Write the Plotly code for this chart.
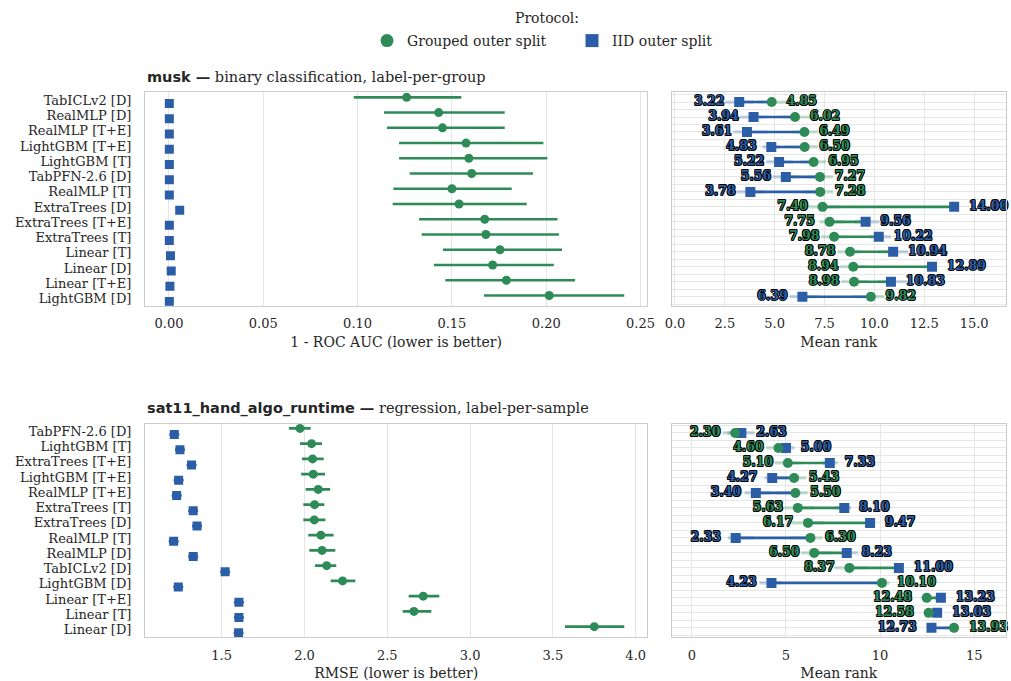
import plotly.graph_objects as go

W, H = 1011, 681
GREEN = "#2e8b57"
BLUE = "#2b5ea7"
GREEN_L = "rgba(46,139,87,0.28)"
BLUE_L = "rgba(43,94,167,0.28)"
GRID = "#e6e6e6"
FRAME = "#cccccc"
SERIF = "DejaVu Serif"
TXT = "#262626"

# ---------------- musk ----------------
musk_models = ["TabICLv2 [D]", "RealMLP [D]", "RealMLP [T+E]", "LightGBM [T+E]", "LightGBM [T]",
               "TabPFN-2.6 [D]", "RealMLP [T]", "ExtraTrees [D]", "ExtraTrees [T+E]", "ExtraTrees [T]",
               "Linear [T]", "Linear [D]", "Linear [T+E]", "LightGBM [D]"]
musk_grp_mean = [0.126, 0.143, 0.145, 0.1575, 0.159, 0.1605, 0.150, 0.1538, 0.1674, 0.168, 0.1755, 0.1716, 0.1789, 0.2016]
musk_grp_lo = [0.098, 0.114, 0.1156, 0.122, 0.122, 0.1276, 0.119, 0.1186, 0.1326, 0.134, 0.1453, 0.1405, 0.1465, 0.167]
musk_grp_hi = [0.155, 0.178, 0.178, 0.1985, 0.2006, 0.193, 0.1817, 0.1897, 0.206, 0.2068, 0.2084, 0.204, 0.2153, 0.2414]
musk_iid_mean = [0.0002, 0.0002, 0.0002, 0.0002, 0.0002, 0.0002, 0.0002, 0.0057, 0.0002, 0.0002, 0.0008, 0.0012, 0.0005, 0.0002]

musk_rank_grp = [4.85, 6.02, 6.49, 6.50, 6.95, 7.27, 7.28, 7.40, 7.75, 7.98, 8.78, 8.94, 8.98, 9.82]
musk_rank_grp_lo = [4.10, 5.20, 5.85, 5.50, 6.30, 6.60, 6.50, 6.67, 7.25, 7.33, 8.17, 8.25, 8.33, 8.90]
musk_rank_grp_hi = [5.60, 6.83, 7.17, 7.17, 7.58, 7.92, 7.92, 8.30, 8.50, 8.70, 9.40, 9.60, 9.70, 10.50]
musk_rank_iid = [3.22, 3.94, 3.61, 4.83, 5.22, 5.56, 3.78, 14.00, 9.56, 10.22, 10.94, 12.89, 10.83, 6.39]
musk_rank_iid_lo = [2.50, 3.25, 2.92, 4.38, 4.58, 4.92, 3.08, 14.00, 9.00, 9.75, 10.20, 12.50, 10.20, 5.75]
musk_rank_iid_hi = [3.95, 4.60, 4.67, 5.30, 5.90, 6.20, 4.50, 14.00, 10.25, 10.83, 11.70, 12.89, 11.70, 7.20]

# ---------------- sat11 ----------------
sat_models = ["TabPFN-2.6 [D]", "LightGBM [T]", "ExtraTrees [T+E]", "LightGBM [T+E]", "RealMLP [T+E]",
              "ExtraTrees [T]", "ExtraTrees [D]", "RealMLP [T]", "RealMLP [D]", "TabICLv2 [D]",
              "LightGBM [D]", "Linear [T+E]", "Linear [T]", "Linear [D]"]
sat_grp_mean = [1.973, 2.043, 2.049, 2.053, 2.083, 2.061, 2.059, 2.099, 2.106, 2.134, 2.230, 2.717, 2.661, 3.750]
sat_grp_lo = [1.906, 1.973, 1.985, 1.980, 2.007, 1.993, 1.993, 2.023, 2.029, 2.063, 2.158, 2.629, 2.593, 3.573]
sat_grp_hi = [2.037, 2.106, 2.116, 2.124, 2.155, 2.120, 2.126, 2.176, 2.186, 2.192, 2.307, 2.814, 2.766, 3.931]
sat_iid_mean = [1.214, 1.248, 1.318, 1.240, 1.228, 1.328, 1.351, 1.210, 1.328, 1.521, 1.238, 1.604, 1.604, 1.602]
sat_iid_lo = [1.184, 1.218, 1.288, 1.210, 1.198, 1.298, 1.321, 1.180, 1.298, 1.491, 1.208, 1.574, 1.574, 1.572]
sat_iid_hi = [1.244, 1.278, 1.348, 1.270, 1.258, 1.358, 1.381, 1.240, 1.358, 1.551, 1.268, 1.634, 1.634, 1.632]

sat_rank_grp = [2.30, 4.60, 5.10, 5.43, 5.50, 5.63, 6.17, 6.30, 6.50, 8.37, 10.10, 12.48, 12.58, 13.93]
sat_rank_grp_lo = [1.65, 3.95, 4.40, 4.80, 4.50, 4.92, 5.28, 5.20, 5.80, 7.57, 9.70, 12.20, 12.40, 13.60]
sat_rank_grp_hi = [2.90, 5.20, 5.80, 6.07, 6.16, 6.50, 7.00, 6.95, 7.50, 9.30, 10.50, 12.80, 12.80, 14.20]
sat_rank_iid = [2.63, 5.00, 7.33, 4.27, 3.40, 8.10, 9.47, 2.33, 8.23, 11.00, 4.23, 13.23, 13.03, 12.73]
sat_rank_iid_lo = [1.90, 4.50, 6.90, 3.86, 2.80, 7.60, 9.47, 1.91, 7.90, 11.00, 3.60, 12.90, 12.80, 12.50]
sat_rank_iid_hi = [3.33, 5.45, 7.75, 4.80, 4.20, 8.46, 9.47, 3.30, 8.82, 11.00, 4.80, 13.50, 13.20, 13.00]

DODGE = 0.2
fig = go.Figure()


def metric_panel(xa, ya, gm, glo, ghi, im, ilo=None, ihi=None):
    n = len(gm)
    rows = list(range(n))
    err_i = None
    if ilo is not None:
        err_i = dict(type="data", symmetric=False,
                     array=[h - m for h, m in zip(ihi, im)],
                     arrayminus=[m - l for m, l in zip(im, ilo)],
                     thickness=2.6, width=0, color=BLUE)
    fig.add_trace(go.Scatter(
        x=im, y=[r + DODGE for r in rows], mode="markers", xaxis=xa, yaxis=ya,
        marker=dict(symbol="square", size=9, color=BLUE), error_x=err_i,
        showlegend=False, hoverinfo="skip"))
    fig.add_trace(go.Scatter(
        x=gm, y=[r - DODGE for r in rows], mode="markers", xaxis=xa, yaxis=ya,
        marker=dict(symbol="circle", size=9, color=GREEN),
        error_x=dict(type="data", symmetric=False,
                     array=[h - m for h, m in zip(ghi, gm)],
                     arrayminus=[m - l for m, l in zip(gm, glo)],
                     thickness=2.6, width=0, color=GREEN),
        showlegend=False, hoverinfo="skip"))


def seg(lo, hi):
    xs, ys = [], []
    for i, (a, b) in enumerate(zip(lo, hi)):
        xs += [a, b, None]
        ys += [i, i, None]
    return xs, ys


SHADOW = ("0.8px 0 0 #000, -0.8px 0 0 #000, 0 0.8px 0 #000, 0 -0.8px 0 #000, "
          "0.6px 0.6px 0 #000, -0.6px -0.6px 0 #000, 0.6px -0.6px 0 #000, -0.6px 0.6px 0 #000")


def rank_panel(xa, ya, g, glo, ghi, b, blo, bhi):
    # light CIs
    for lo, hi, col in ((glo, ghi, GREEN_L), (blo, bhi, BLUE_L)):
        xs, ys = seg(lo, hi)
        fig.add_trace(go.Scatter(x=xs, y=ys, mode="lines", xaxis=xa, yaxis=ya,
                                 line=dict(color=col, width=3.2), showlegend=False, hoverinfo="skip"))
    # connecting lines coloured by the better (lower) rank
    gx, gy, bx, by = [], [], [], []
    for i, (gv, bv) in enumerate(zip(g, b)):
        if gv <= bv:
            gx += [gv, bv, None]; gy += [i, i, None]
        else:
            bx += [bv, gv, None]; by += [i, i, None]
    fig.add_trace(go.Scatter(x=gx, y=gy, mode="lines", xaxis=xa, yaxis=ya,
                             line=dict(color=GREEN, width=2.6), showlegend=False, hoverinfo="skip"))
    fig.add_trace(go.Scatter(x=bx, y=by, mode="lines", xaxis=xa, yaxis=ya,
                             line=dict(color=BLUE, width=2.6), showlegend=False, hoverinfo="skip"))
    rows = list(range(len(g)))
    fig.add_trace(go.Scatter(x=b, y=rows, mode="markers", xaxis=xa, yaxis=ya,
                             marker=dict(symbol="square", size=10, color=BLUE),
                             showlegend=False, hoverinfo="skip"))
    fig.add_trace(go.Scatter(x=g, y=rows, mode="markers", xaxis=xa, yaxis=ya,
                             marker=dict(symbol="circle", size=10, color=GREEN),
                             showlegend=False, hoverinfo="skip"))
    # value labels
    lx, lt, lc, rx, rt, rc = [], [], [], [], [], []
    for gv, bv in zip(g, b):
        if gv <= bv:
            lx.append(gv); lt.append(f"{gv:.2f}"); lc.append(GREEN)
            rx.append(bv); rt.append(f"{bv:.2f}"); rc.append(BLUE)
        else:
            lx.append(bv); lt.append(f"{bv:.2f}"); lc.append(BLUE)
            rx.append(gv); rt.append(f"{gv:.2f}"); rc.append(GREEN)
    for xs, ts, cs, pos in ((lx, lt, lc, "middle left"), (rx, rt, rc, "middle right")):
        fig.add_trace(go.Scatter(
            x=xs, y=rows, mode="markers+text", text=ts, textposition=pos, xaxis=xa, yaxis=ya,
            marker=dict(size=22, color="rgba(0,0,0,0)"),
            textfont=dict(family=SERIF, size=12.5, weight="bold", color=cs, shadow=SHADOW),
            showlegend=False, hoverinfo="skip", cliponaxis=False))


metric_panel("x", "y", musk_grp_mean, musk_grp_lo, musk_grp_hi, musk_iid_mean)
rank_panel("x2", "y2", musk_rank_grp, musk_rank_grp_lo, musk_rank_grp_hi,
           musk_rank_iid, musk_rank_iid_lo, musk_rank_iid_hi)
metric_panel("x3", "y3", sat_grp_mean, sat_grp_lo, sat_grp_hi, sat_iid_mean, sat_iid_lo, sat_iid_hi)
rank_panel("x4", "y4", sat_rank_grp, sat_rank_grp_lo, sat_rank_grp_hi,
           sat_rank_iid, sat_rank_iid_lo, sat_rank_iid_hi)

# legend entries
fig.add_trace(go.Scatter(x=[None], y=[None], mode="markers", name="Grouped outer split",
                         marker=dict(symbol="circle", size=13, color=GREEN)))
fig.add_trace(go.Scatter(x=[None], y=[None], mode="markers", name="IID outer split",
                         marker=dict(symbol="square", size=13, color=BLUE)))

XL = [145 / W, 647.3 / W]
XR = [671.7 / W, 1006 / W]
YT = [1 - 305.7 / H, 1 - 92.3 / H]
YB = [1 - 637.3 / H, 1 - 423.5 / H]

tickfont = dict(family=SERIF, size=13, color=TXT)
titlefont = dict(family=SERIF, size=14, color=TXT)
base_x = dict(showgrid=True, gridcolor=GRID, gridwidth=1, zeroline=False, showline=True, mirror=True,
              linecolor=FRAME, linewidth=1, ticks="outside", ticklen=6, tickcolor="rgba(0,0,0,0)",
              tickfont=tickfont, automargin=False)
base_y = dict(zeroline=False, showline=True, mirror=True, linecolor=FRAME, linewidth=1,
              tickfont=tickfont, automargin=False)
rows14 = list(range(14))
half = [i - 0.5 for i in range(15)]

fig.update_layout(
    width=W, height=H, margin=dict(l=0, r=0, t=0, b=0, autoexpand=False),
    paper_bgcolor="white", plot_bgcolor="white",
    font=dict(family=SERIF, color=TXT),
    xaxis=dict(base_x, domain=XL, anchor="y", range=[-0.0127, 0.2536],
               tickvals=[0, 0.05, 0.1, 0.15, 0.2, 0.25],
               tickformat=".2f", title=dict(text="1 - ROC AUC (lower is better)", font=titlefont, standoff=6)),
    yaxis=dict(base_y, domain=YT, anchor="x", range=[13.47, -0.53], tickvals=rows14, ticktext=musk_models,
               showgrid=False, ticks="outside", ticklen=10, tickcolor="rgba(0,0,0,0)"),
    xaxis2=dict(base_x, domain=XR, anchor="y2", range=[-0.165, 16.6], tickvals=[0, 2.5, 5, 7.5, 10, 12.5, 15],
                tickformat=".1f", title=dict(text="Mean rank", font=titlefont, standoff=6)),
    yaxis2=dict(base_y, domain=YT, anchor="x2", range=[13.6, -0.65], tickvals=rows14, showticklabels=False,
                showgrid=True, gridcolor=GRID, ticks="",
                minor=dict(tickvals=half, showgrid=True, gridcolor=GRID, ticks="")),
    xaxis3=dict(base_x, domain=XL, anchor="y3", range=[1.037, 4.070], tickvals=[1.5, 2.0, 2.5, 3.0, 3.5, 4.0],
                tickformat=".1f", title=dict(text="RMSE (lower is better)", font=titlefont, standoff=6)),
    yaxis3=dict(base_y, domain=YB, anchor="x3", range=[13.5, -0.52], tickvals=rows14, ticktext=sat_models,
                showgrid=False, ticks="outside", ticklen=10, tickcolor="rgba(0,0,0,0)"),
    xaxis4=dict(base_x, domain=XR, anchor="y4", range=[-1.07, 16.69], tickvals=[0, 5, 10, 15],
                title=dict(text="Mean rank", font=titlefont, standoff=6)),
    yaxis4=dict(base_y, domain=YB, anchor="x4", range=[13.63, -0.63], tickvals=rows14, showticklabels=False,
                showgrid=True, gridcolor=GRID, ticks="",
                minor=dict(tickvals=half, showgrid=True, gridcolor=GRID, ticks="")),
    legend=dict(orientation="h", x=367 / W, xanchor="left", y=1 - 25 / H, yanchor="top",
                font=dict(family=SERIF, size=14, color=TXT), entrywidth=160, entrywidthmode="pixels",
                tracegroupgap=0, bgcolor="rgba(0,0,0,0)"),
    annotations=[
        dict(xref="paper", yref="paper", x=547 / W, y=1 - 18 / H, xanchor="center", yanchor="middle",
             showarrow=False, font=dict(family=SERIF, size=14, color=TXT), text="Protocol:"),
        dict(xref="paper", yref="paper", x=145 / W, y=1 - 77 / H, xanchor="left", yanchor="middle",
             showarrow=False, font=dict(family=SERIF, size=14.5, color=TXT),
             text='<span style="font-family:DejaVu Sans;font-weight:bold">musk —</span> binary classification, label-per-group'),
        dict(xref="paper", yref="paper", x=145 / W, y=1 - 408 / H, xanchor="left", yanchor="middle",
             showarrow=False, font=dict(family=SERIF, size=14.5, color=TXT),
             text='<span style="font-family:DejaVu Sans;font-weight:bold">sat11_hand_algo_runtime —</span> regression, label-per-sample'),
    ],
)

fig.write_html("out.html", config={"displayModeBar": False},
               post_script="document.body.style.margin='0';document.body.style.overflow='hidden';")
